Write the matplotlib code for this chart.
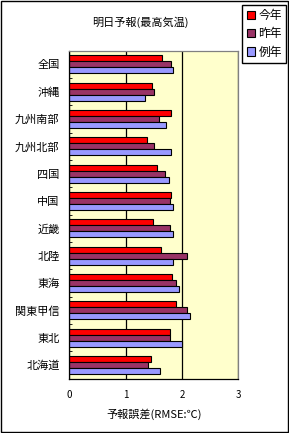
import numpy as np
import matplotlib
matplotlib.use("Agg")
import matplotlib.pyplot as plt
from matplotlib.patches import Rectangle, Patch

plt.rcParams['font.family'] = ['Noto Sans CJK JP', 'DejaVu Sans']

# data (top to bottom as shown)
regions = ["全国", "沖縄", "九州南部", "九州北部", "四国", "中国",
           "近畿", "北陸", "東海", "関東甲信", "東北", "北海道"]
this_year = [1.65, 1.47, 1.80, 1.38, 1.56, 1.81, 1.49, 1.63, 1.82, 1.90, 1.79, 1.45]
last_year = [1.80, 1.51, 1.60, 1.51, 1.70, 1.79, 1.79, 2.09, 1.89, 2.09, 1.79, 1.40]
normal_year = [1.84, 1.35, 1.72, 1.81, 1.76, 1.84, 1.84, 1.84, 1.95, 2.15, 2.00, 1.61]
series_names = ["今年", "昨年", "例年"]
colors = ["#FF0000", "#993366", "#9999FF"]

fig = plt.figure(figsize=(2.89, 4.33), dpi=100)
ax = fig.add_axes([0.24, 0.1254, 0.5848, 0.7575])
ax.set_facecolor("#FFFFCC")

n = len(regions)
pos = np.arange(n)[::-1]  # first region at top
h = 0.22
for i, (vals, c) in enumerate(zip([this_year, last_year, normal_year], colors)):
    ax.barh(pos + (1 - i) * h, vals, height=h, color=c, edgecolor="black",
            linewidth=0.8, zorder=2)

ax.set_xlim(0, 3)
ax.set_ylim(-0.5, n - 0.5)
ax.set_xticks([0, 1, 2, 3])
ax.set_xticklabels(["0", "1", "2", "3"], fontsize=7)
ax.tick_params(axis="x", length=0, pad=8)
ax.set_yticks(pos)
ax.set_yticklabels(regions, fontsize=8)
ax.tick_params(axis="y", which="major", length=0, pad=7)
ax.set_yticks(np.arange(n + 1) - 0.5, minor=True)
ax.tick_params(axis="y", which="minor", length=2.5, direction="in", color="black")
ax.set_axisbelow(True)
ax.xaxis.grid(True, color="black", linewidth=0.9)

for s in ["top", "right"]:
    ax.spines[s].set_color("#808080")
for s in ["left", "bottom"]:
    ax.spines[s].set_color("black")
for s in ax.spines.values():
    s.set_linewidth(0.9)
    s.set_zorder(3)

ax.set_xlabel("予報誤差(RMSE:℃)", fontsize=8, labelpad=6)
fig.text(0.485, 0.949, "明日予報(最高気温)", ha="center", va="center", fontsize=8)

handles = [Patch(facecolor=c, edgecolor="black", linewidth=0.8) for c in colors]
fig.legend(handles, series_names, loc="upper right",
           bbox_to_anchor=(286 / 289, 1 - 5 / 433), fontsize=8.5,
           frameon=True, fancybox=False, edgecolor="black", framealpha=1,
           handlelength=0.7, handleheight=0.7, handletextpad=0.3,
           borderpad=0.35, labelspacing=0.45, borderaxespad=0)

fig.patches.append(Rectangle((0.002, 0.002), 0.994, 0.995, transform=fig.transFigure,
                             fill=False, edgecolor="black", linewidth=1))

fig.savefig("out.png", dpi=100)
